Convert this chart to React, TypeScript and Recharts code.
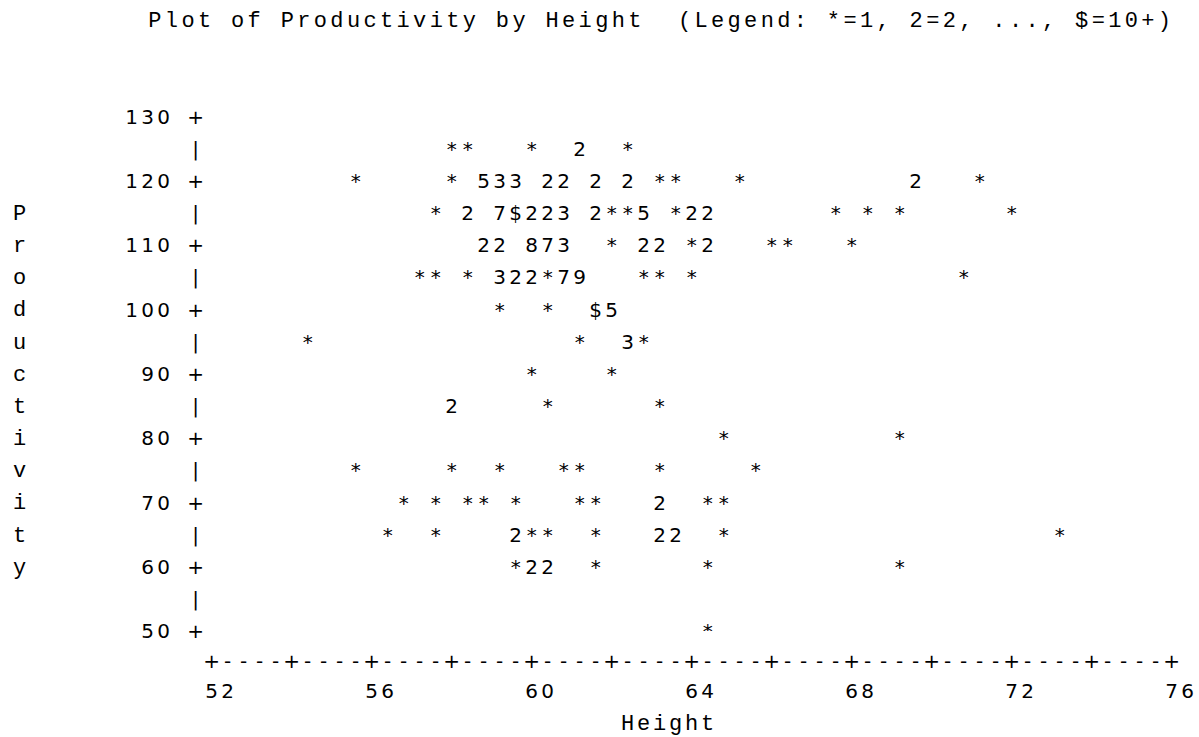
import React from 'react';
import { ScatterChart, Scatter, XAxis, YAxis } from 'recharts';

// ---- data (one entry per plotted cell) ----
// Height values (cell positions, 0.4 units per printer column)
const heightValues: number[] = [
  // Productivity 125
  58.0, 58.4, 60.0, 61.2, 62.4,
  // 120
  55.6, 58.0, 58.8, 59.2, 59.6, 60.4, 60.8, 61.6, 62.4, 63.2, 63.6, 65.2, 69.6, 71.2,
  // 115
  57.6, 58.4, 59.2, 59.6, 60.0, 60.4, 60.8, 61.6, 62.0, 62.4, 62.8, 63.6, 64.0, 64.4, 67.6, 68.4, 69.2, 72.0,
  // 110
  58.8, 59.2, 60.0, 60.4, 60.8, 62.0, 62.8, 63.2, 64.0, 64.4, 66.0, 66.4, 68.0,
  // 105
  57.2, 57.6, 58.4, 59.2, 59.6, 60.0, 60.4, 60.8, 61.2, 62.8, 63.2, 64.0, 70.8,
  // 100
  59.2, 60.4, 61.6, 62.0,
  // 95
  54.4, 61.2, 62.4, 62.8,
  // 90
  60.0, 62.0,
  // 85
  58.0, 60.4, 63.2,
  // 80
  64.8, 69.2,
  // 75
  55.6, 58.0, 59.2, 60.8, 61.2, 63.2, 65.6,
  // 70
  56.8, 57.6, 58.4, 58.8, 59.6, 61.2, 61.6, 63.2, 64.4, 64.8,
  // 65
  56.4, 57.6, 59.6, 60.0, 60.4, 61.6, 63.2, 63.6, 64.8, 73.2,
  // 60
  59.6, 60.0, 60.4, 61.6, 64.4, 69.2,
  // 50
  64.4,
];

const productivityValues: number[] = [
  125, 125, 125, 125, 125,
  120, 120, 120, 120, 120, 120, 120, 120, 120, 120, 120, 120, 120, 120,
  115, 115, 115, 115, 115, 115, 115, 115, 115, 115, 115, 115, 115, 115, 115, 115, 115, 115,
  110, 110, 110, 110, 110, 110, 110, 110, 110, 110, 110, 110, 110,
  105, 105, 105, 105, 105, 105, 105, 105, 105, 105, 105, 105, 105,
  100, 100, 100, 100,
  95, 95, 95, 95,
  90, 90,
  85, 85, 85,
  80, 80,
  75, 75, 75, 75, 75, 75, 75,
  70, 70, 70, 70, 70, 70, 70, 70, 70, 70,
  65, 65, 65, 65, 65, 65, 65, 65, 65, 65,
  60, 60, 60, 60, 60, 60,
  50,
];

// number of observations in each cell (1 -> "*", 2..9 -> digit, 10+ -> "$")
const obsCounts: number[] = [
  1, 1, 1, 2, 1,
  1, 1, 5, 3, 3, 2, 2, 2, 2, 1, 1, 1, 2, 1,
  1, 2, 7, 10, 2, 2, 3, 2, 1, 1, 5, 1, 2, 2, 1, 1, 1, 1,
  2, 2, 8, 7, 3, 1, 2, 2, 1, 2, 1, 1, 1,
  1, 1, 1, 3, 2, 2, 1, 7, 9, 1, 1, 1, 1,
  1, 1, 10, 5,
  1, 1, 3, 1,
  1, 1,
  2, 1, 1,
  1, 1,
  1, 1, 1, 1, 1, 1, 1,
  1, 1, 1, 1, 1, 1, 1, 2, 1, 1,
  1, 1, 2, 1, 1, 1, 2, 2, 1, 1,
  1, 2, 2, 1, 1, 1,
  1,
];

const xTicks: number[] = [52, 54, 56, 58, 60, 62, 64, 66, 68, 70, 72, 74, 76];
const yTicks: number[] = [50, 55, 60, 65, 70, 75, 80, 85, 90, 95, 100, 105, 110, 115, 120, 125, 130];

const titleText = 'Plot of Productivity by Height  (Legend: *=1, 2=2, ..., $=10+)';
const xLabelText = 'Height';
const yLabelText = 'Productivity';

const tableData = heightValues.map((h, i) => ({
  height: h,
  productivity: productivityValues[i],
  count: obsCounts[i],
}));

// ---- layout ----
const CHART_W = 1199;
const CHART_H = 737;
const Y_AXIS_W = 211.7;
const X_AXIS_H = 106;
const MARGIN = { top: 116.5, right: 27.3, bottom: 0, left: 0 };
const PLOT_W = CHART_W - Y_AXIS_W - MARGIN.right;
const PLOT_H = CHART_H - MARGIN.top - X_AXIS_H;
const X_DOMAIN: [number, number] = [52, 76];
const Y_DOMAIN: [number, number] = [50, 130];
const COLS = (X_DOMAIN[1] - X_DOMAIN[0]) / 0.4; // 60 printer columns
const ROWS = (Y_DOMAIN[1] - Y_DOMAIN[0]) / 5; // 16 printer rows
const COL = PLOT_W / COLS;
const ROW = PLOT_H / ROWS;
const X_AXIS_ROW = 0.93; // rows below the lowest plot row
const X_TICK_ROW = 1.86;
const X_LABEL_ROW = 2.87;

const SYM_FONT = "'DejaVu Sans', sans-serif";
const SYM_SIZE = 20;
const SYM_BASE = 7.2;
const LET_FONT = "'Liberation Mono', monospace";
const LET_SIZE = 22;
const LET_BASE = 7;
const INK = '#000';

const symbolFor = (n: number) => (n >= 10 ? '$' : n === 1 ? '*' : String(n));

const Glyph = ({ x, y, ch, letter }: { x: number; y: number; ch: string; letter?: boolean }) => (
  <text
    x={x}
    y={y + (letter ? LET_BASE : SYM_BASE)}
    textAnchor="middle"
    fontFamily={letter ? LET_FONT : SYM_FONT}
    fontSize={letter ? LET_SIZE : SYM_SIZE}
    fill={INK}
  >
    {ch}
  </text>
);

const CellShape = (props: any) => {
  const { cx, cy, payload } = props;
  if (cx == null || cy == null) return null;
  return <Glyph x={cx} y={cy} ch={symbolFor(payload.count)} />;
};

const renderXTick = (props: any) => {
  const { x, y, payload } = props;
  const v = payload.value as number;
  const axisY = y + X_AXIS_ROW * ROW;
  const parts: React.ReactNode[] = [<Glyph key="p" x={x} y={axisY} ch="+" />];
  if (v < X_DOMAIN[1]) {
    for (let k = 1; k <= 4; k++) parts.push(<Glyph key={'d' + k} x={x + k * COL} y={axisY} ch="-" />);
  }
  if (v % 4 === 0) {
    String(v)
      .split('')
      .forEach((c, i) =>
        parts.push(<Glyph key={'l' + i} x={x + i * COL} y={y + X_TICK_ROW * ROW} ch={c} />)
      );
  }
  return <g key={'xt' + v}>{parts}</g>;
};

const renderYTick = (props: any) => {
  const { x, y, payload } = props;
  const v = payload.value as number;
  const parts: React.ReactNode[] = [];
  if (v % 10 === 0) {
    parts.push(<Glyph key="p" x={x - COL} y={y} ch="+" />);
    const s = String(v);
    s.split('').forEach((c, i) =>
      parts.push(<Glyph key={'l' + i} x={x - (3 + (s.length - 1 - i)) * COL} y={y} ch={c} />)
    );
  } else {
    parts.push(<Glyph key="b" x={x - COL} y={y} ch="|" />);
  }
  return <g key={'yt' + v}>{parts}</g>;
};

const renderYLabel = (props: any) => {
  const vb = props.viewBox || {};
  const left = (vb.x ?? 0) + (vb.width ?? Y_AXIS_W);
  const top = vb.y ?? MARGIN.top;
  const letters = yLabelText.split('').map((c, i) => (
    <Glyph key={'y' + i} x={left - 12 * COL} y={top + (3 + i) * ROW} ch={c} letter />
  ));
  const title = titleText.split('').map((c, i) =>
    c === ' ' ? null : (
      <Glyph key={'t' + i} x={left - 3.55 * COL + i * 16.55} y={top - 3 * ROW} ch={c} letter />
    )
  );
  return (
    <g>
      {letters}
      {title}
    </g>
  );
};

const renderXLabel = (props: any) => {
  const vb = props.viewBox || {};
  const left = vb.x ?? Y_AXIS_W;
  const top = vb.y ?? MARGIN.top + PLOT_H;
  return (
    <g>
      {xLabelText.split('').map((c, i) => (
        <Glyph key={'x' + i} x={left + (26 + i) * COL} y={top + X_LABEL_ROW * ROW} ch={c} letter />
      ))}
    </g>
  );
};

export default function App() {
  return (
    <div style={{ position: 'absolute', left: 0, top: 0, width: CHART_W, height: CHART_H, background: '#fff' }}>
      <ScatterChart width={CHART_W} height={CHART_H} margin={MARGIN}>
        <XAxis
          type="number"
          dataKey="height"
          domain={X_DOMAIN}
          ticks={xTicks}
          interval={0}
          height={X_AXIS_H}
          tickLine={false}
          axisLine={false}
          tickSize={0}
          tickMargin={0}
          tick={renderXTick}
          allowDataOverflow
          label={{ content: renderXLabel }}
        />
        <YAxis
          type="number"
          dataKey="productivity"
          domain={Y_DOMAIN}
          ticks={yTicks}
          interval={0}
          width={Y_AXIS_W}
          tickLine={false}
          axisLine={false}
          tickSize={0}
          tickMargin={0}
          tick={renderYTick}
          allowDataOverflow
          label={{ content: renderYLabel }}
        />
        <Scatter data={tableData} shape={<CellShape />} isAnimationActive={false} />
      </ScatterChart>
    </div>
  );
}
